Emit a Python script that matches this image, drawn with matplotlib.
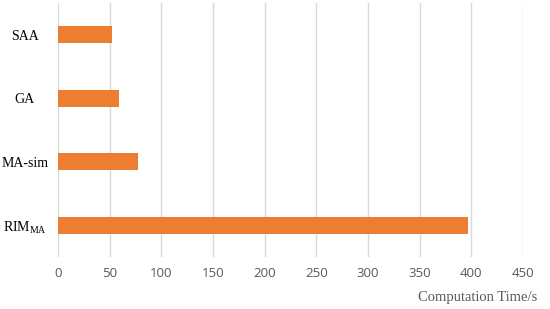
import matplotlib.pyplot as plt

# data (top to bottom: SAA, GA, MA-sim, RIM_MA)
methods = ['RIM$_{\\mathrm{MA}}$', 'MA-sim', 'GA', 'SAA']
comp_time = [397, 77, 59, 52]
x_ticks = [0, 50, 100, 150, 200, 250, 300, 350, 400, 450]

plt.rcParams['mathtext.fontset'] = 'custom'
plt.rcParams['mathtext.rm'] = 'Liberation Serif'

fig = plt.figure(figsize=(5.5, 3.09), dpi=100)
ax = fig.add_axes([58 / 550, 1 - 257 / 309, (523 - 58) / 550, (257 - 3) / 309])

ax.barh(range(len(methods)), comp_time, height=0.26, color='#ED7D31', zorder=3)

ax.set_xlim(0, 450)
ax.set_ylim(-0.5, 3.5)
ax.set_xticks(x_ticks)
ax.set_xticklabels([str(v) for v in x_ticks], fontsize=9.5, color='#595959',
                   family='Open Sans')
ax.set_yticks(range(len(methods)))
ax.set_yticklabels(methods, fontsize=10, family='Liberation Serif', color='black',
                   ha='center')
ax.tick_params(axis='both', length=0)
ax.tick_params(axis='x', pad=7)
ax.tick_params(axis='y', pad=24)

ax.grid(axis='x', color='#d9d9d9', linewidth=1, zorder=0)
for s in ax.spines.values():
    s.set_visible(False)

fig.text(537 / 550, 1 - 297 / 309, 'Computation Time/s', ha='right', va='center',
         fontsize=10.5, family='Liberation Serif', color='#595959')

fig.savefig('out.png', dpi=100)
